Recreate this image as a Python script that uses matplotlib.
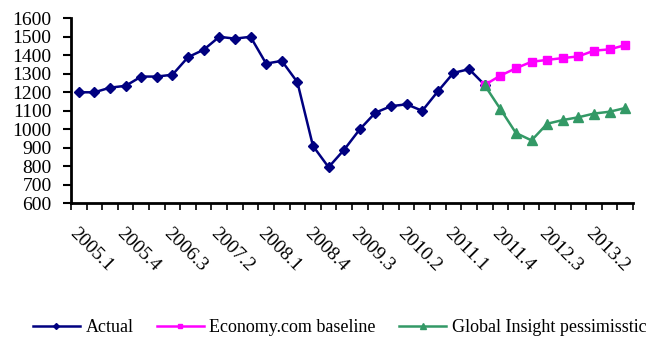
import matplotlib
matplotlib.use("Agg")
import matplotlib.pyplot as plt
import matplotlib.transforms as mtransforms
import numpy as np

quarters = [f"{y}.{q}" for y in range(2005, 2014) for q in range(1, 5)]
actual = [1200, 1200, 1225, 1235, 1285, 1285, 1295, 1390, 1430, 1500, 1490, 1500,
          1355, 1370, 1255, 910, 795, 890, 1000, 1090, 1125, 1135, 1100, 1205,
          1305, 1325, 1240]
baseline = [1240, 1290, 1330, 1365, 1375, 1385, 1394, 1425, 1432, 1455]
pessimistic = [1238, 1110, 980, 940, 1030, 1050, 1065, 1085, 1095, 1115]
yticks = list(range(600, 1700, 100))

plt.rcParams['font.family'] = ['Liberation Serif', 'DejaVu Serif']

fig = plt.figure(figsize=(6.53, 3.38), dpi=100)
ax = fig.add_axes([0.1087, 0.3985, 0.8607, 0.5474])

n = len(quarters)
xa = np.arange(len(actual))
xp = np.arange(len(actual) - 1, len(actual) - 1 + len(baseline))

ax.plot(xa, actual, color='#000080', marker='D', markersize=5, lw=1.8, label='Actual')
ax.plot(xp, baseline, color='#FF00FF', marker='s', markersize=6, lw=1.8, label='Economy.com baseline')
ax.plot(xp, pessimistic, color='#339966', marker='^', markersize=6.5, lw=1.8, label='Global Insight pessimisstic')

ax.set_xlim(-0.5, n - 0.5)
ax.set_ylim(600, 1600)
ax.set_yticks(yticks)
ax.set_yticklabels([str(v) for v in yticks], fontsize=14)
ax.tick_params(axis='y', direction='out', length=6, width=1.5, pad=8)

ax.set_xticks(np.arange(-0.5, n, 1))
ax.set_xticklabels([])
ax.tick_params(axis='x', direction='out', length=5, width=1.2)
off = mtransforms.ScaledTranslation(0, -22 / 100, fig.dpi_scale_trans)
for i in range(0, n, 3):
    ax.text(i, 600, quarters[i], transform=ax.transData + off, fontsize=14,
            rotation=-45, rotation_mode='anchor', ha='left', va='top')

for s in ['top', 'right']:
    ax.spines[s].set_visible(False)
for s in ['left', 'bottom']:
    ax.spines[s].set_linewidth(2)

fig.legend(loc='center', bbox_to_anchor=(0.52, 0.03), ncol=3, frameon=False,
           fontsize=13, handlelength=2.6, handletextpad=0.3, columnspacing=1.3,
           markerscale=0.6, borderaxespad=0, borderpad=0)

fig.savefig('out.png', dpi=100)
